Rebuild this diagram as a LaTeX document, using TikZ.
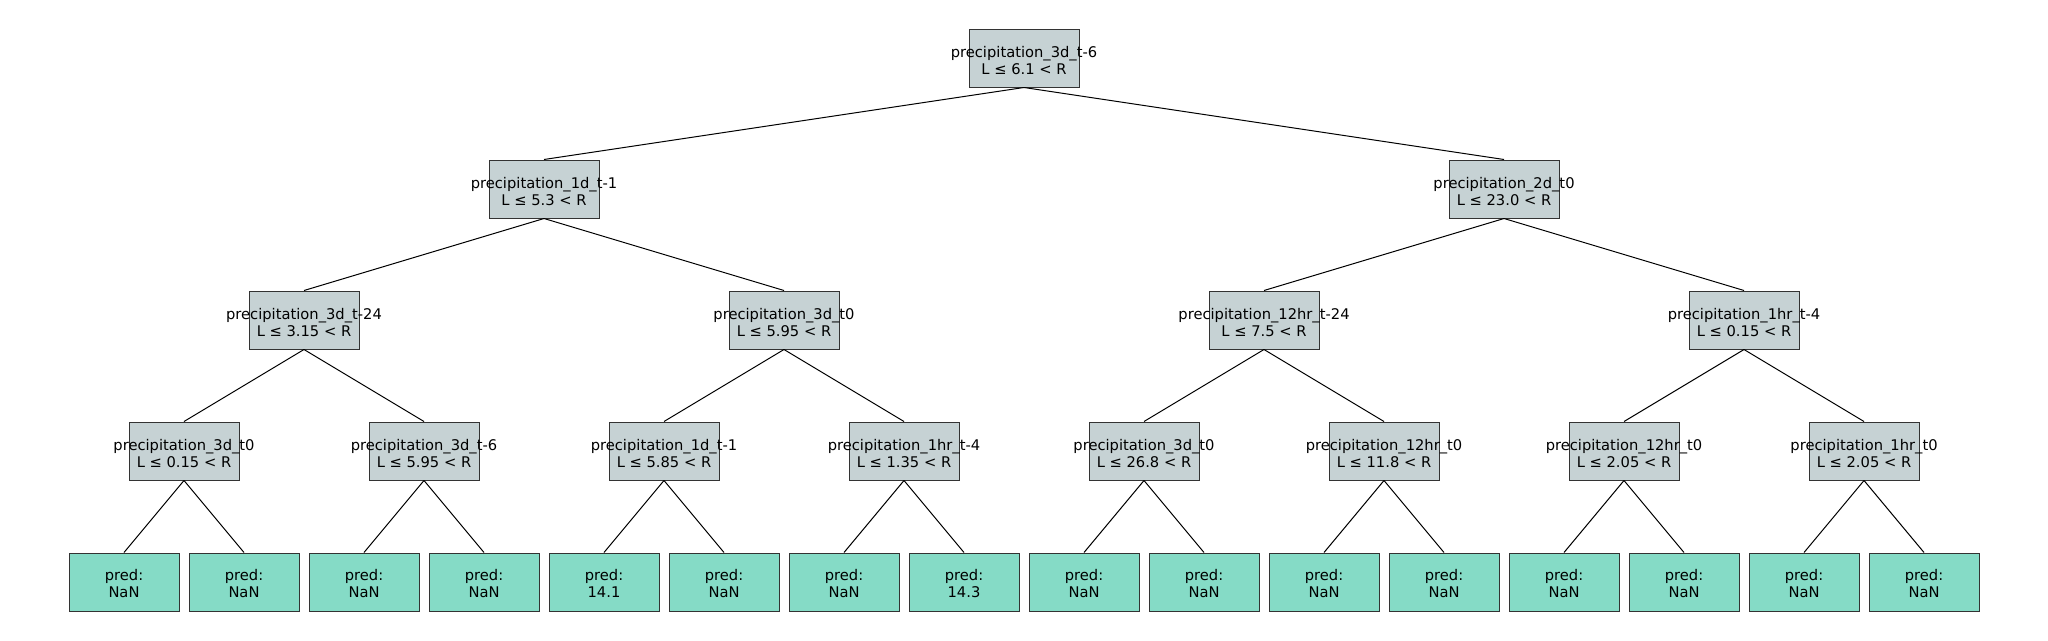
\documentclass[tikz,border=0pt]{standalone}
\usepackage{fontspec}
\setmainfont{DejaVu Sans}
\definecolor{splitfill}{HTML}{C6D2D4}
\definecolor{leaffill}{HTML}{85DBC6}
\definecolor{boxline}{HTML}{333333}
\tikzset{
  splitbox/.style={draw=boxline, fill=splitfill, line width=1pt, minimum width=110pt, minimum height=58pt, inner sep=0pt},
  leafbox/.style={draw=boxline, fill=leaffill, line width=1pt, minimum width=110pt, minimum height=58pt, inner sep=0pt},
  lbl/.style={align=center, inner sep=0pt, font=\fontsize{14.7}{16.5}\selectfont},
  edge/.style={draw=black, line width=1pt}
}
\newcommand{\splitnode}[4]{%
  \node[splitbox] (#1) at #2 {};
  \node[lbl] (#1t) at ([yshift=-2.5pt]#1.center) {#3\\L ≤ #4 < R};
}
\newcommand{\leafnode}[3]{%
  \node[leafbox] (#1) at #2 {};
  \node[lbl] (#1t) at ([yshift=-1.5pt]#1.center) {pred:\\#3};
}
\begin{document}
\begin{tikzpicture}[x=1pt,y=-1pt]
\useasboundingbox (0,0) rectangle (2048,640);
% root
\splitnode{r}{(1024,58)}{precipitation\_3d\_t-6}{6.1}
% level 1
\splitnode{a}{(544,189)}{precipitation\_1d\_t-1}{5.3}
\splitnode{b}{(1504,189)}{precipitation\_2d\_t0}{23.0}
% level 2
\splitnode{aa}{(304,320)}{precipitation\_3d\_t-24}{3.15}
\splitnode{ab}{(784,320)}{precipitation\_3d\_t0}{5.95}
\splitnode{ba}{(1264,320)}{precipitation\_12hr\_t-24}{7.5}
\splitnode{bb}{(1744,320)}{precipitation\_1hr\_t-4}{0.15}
% level 3
\splitnode{aaa}{(184,451)}{precipitation\_3d\_t0}{0.15}
\splitnode{aab}{(424,451)}{precipitation\_3d\_t-6}{5.95}
\splitnode{aba}{(664,451)}{precipitation\_1d\_t-1}{5.85}
\splitnode{abb}{(904,451)}{precipitation\_1hr\_t-4}{1.35}
\splitnode{baa}{(1144,451)}{precipitation\_3d\_t0}{26.8}
\splitnode{bab}{(1384,451)}{precipitation\_12hr\_t0}{11.8}
\splitnode{bba}{(1624,451)}{precipitation\_12hr\_t0}{2.05}
\splitnode{bbb}{(1864,451)}{precipitation\_1hr\_t0}{2.05}
% leaves
\leafnode{l1}{(124,582)}{NaN}
\leafnode{l2}{(244,582)}{NaN}
\leafnode{l3}{(364,582)}{NaN}
\leafnode{l4}{(484,582)}{NaN}
\leafnode{l5}{(604,582)}{14.1}
\leafnode{l6}{(724,582)}{NaN}
\leafnode{l7}{(844,582)}{NaN}
\leafnode{l8}{(964,582)}{14.3}
\leafnode{l9}{(1084,582)}{NaN}
\leafnode{l10}{(1204,582)}{NaN}
\leafnode{l11}{(1324,582)}{NaN}
\leafnode{l12}{(1444,582)}{NaN}
\leafnode{l13}{(1564,582)}{NaN}
\leafnode{l14}{(1684,582)}{NaN}
\leafnode{l15}{(1804,582)}{NaN}
\leafnode{l16}{(1924,582)}{NaN}
% edges
\foreach \p/\c in {r/a, r/b, a/aa, a/ab, b/ba, b/bb,
  aa/aaa, aa/aab, ab/aba, ab/abb, ba/baa, ba/bab, bb/bba, bb/bbb,
  aaa/l1, aaa/l2, aab/l3, aab/l4, aba/l5, aba/l6, abb/l7, abb/l8,
  baa/l9, baa/l10, bab/l11, bab/l12, bba/l13, bba/l14, bbb/l15, bbb/l16}
  \draw[edge] (\p.south) -- (\c.north);
\end{tikzpicture}
\end{document}
